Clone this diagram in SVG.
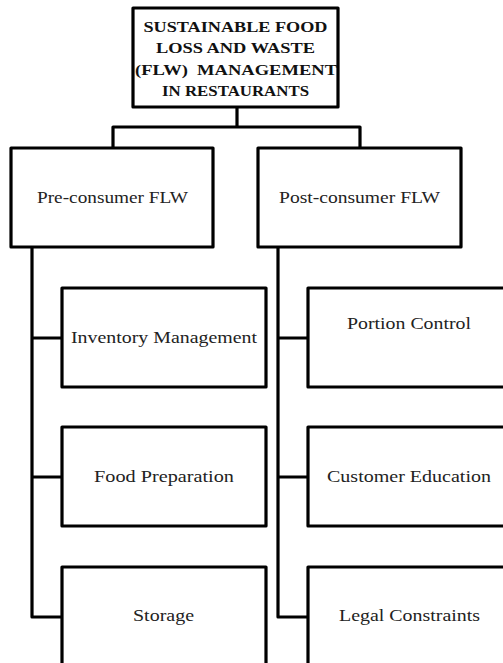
<svg xmlns="http://www.w3.org/2000/svg" width="503" height="663" viewBox="0 0 503 663">
<style>
.box{fill:#fff;stroke:#000;stroke-width:3.2;stroke-linejoin:round}
.lbl{font-family:"Liberation Serif","Times New Roman",serif;font-size:17.5px;fill:#222;text-anchor:middle}
.title{font-family:"Liberation Serif","Times New Roman",serif;font-size:15.5px;font-weight:bold;fill:#111;text-anchor:middle}
.con{fill:none;stroke:#000;stroke-width:3.2;stroke-linejoin:round}
</style>
<rect width="503" height="663" fill="#fff"/>
<g id="connectors">
<path class="con" d="M237,107 V127 M113,148 V127 H360 V148"/>
<path class="con" d="M32,247 V617 H62 M32,338 H62 M32,477 H62"/>
<path class="con" d="M278,247 V617 H308 M278,338 H308 M278,477 H308"/>
</g>
<g id="root">
<rect class="box" x="133" y="8" width="205" height="99"/>
<text class="title" x="235.5" y="32" textLength="184" lengthAdjust="spacingAndGlyphs">SUSTAINABLE FOOD</text>
<text class="title" x="235.5" y="53" textLength="159" lengthAdjust="spacingAndGlyphs">LOSS AND WASTE</text>
<text class="title" x="236" y="75" textLength="202" lengthAdjust="spacingAndGlyphs" xml:space="preserve">(FLW)  MANAGEMENT</text>
<text class="title" x="235.5" y="96" textLength="147" lengthAdjust="spacingAndGlyphs">IN RESTAURANTS</text>
</g>
<g id="pre">
<rect class="box" x="11" y="148" width="202" height="99"/>
<text class="lbl" x="112.5" y="203" textLength="151" lengthAdjust="spacingAndGlyphs">Pre-consumer FLW</text>
</g>
<g id="post">
<rect class="box" x="258" y="148" width="203" height="99"/>
<text class="lbl" x="359.5" y="203" textLength="161" lengthAdjust="spacingAndGlyphs">Post-consumer FLW</text>
</g>
<g id="inventory">
<rect class="box" x="62" y="288" width="204" height="99"/>
<text class="lbl" x="164" y="343" textLength="186" lengthAdjust="spacingAndGlyphs">Inventory Management</text>
</g>
<g id="food">
<rect class="box" x="62" y="427" width="204" height="99"/>
<text class="lbl" x="164" y="482" textLength="140" lengthAdjust="spacingAndGlyphs">Food Preparation</text>
</g>
<g id="storage">
<rect class="box" x="62" y="567" width="204" height="100"/>
<text class="lbl" x="163.5" y="621" textLength="61" lengthAdjust="spacingAndGlyphs">Storage</text>
</g>
<g id="portion">
<rect class="box" x="308" y="288" width="204" height="99"/>
<text class="lbl" x="409" y="329" textLength="124" lengthAdjust="spacingAndGlyphs">Portion Control</text>
</g>
<g id="customer">
<rect class="box" x="308" y="427" width="204" height="99"/>
<text class="lbl" x="409" y="482" textLength="164" lengthAdjust="spacingAndGlyphs">Customer Education</text>
</g>
<g id="legal">
<rect class="box" x="308" y="567" width="204" height="100"/>
<text class="lbl" x="409.5" y="621" textLength="141" lengthAdjust="spacingAndGlyphs">Legal Constraints</text>
</g>
</svg>
